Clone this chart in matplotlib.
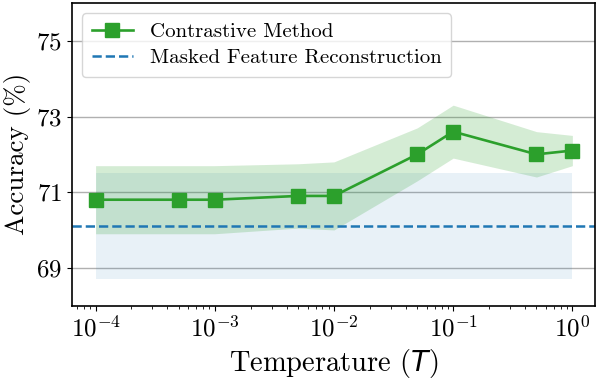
import matplotlib
matplotlib.use("Agg")
import matplotlib.pyplot as plt
import numpy as np

temps = [1e-4, 5e-4, 1e-3, 5e-3, 1e-2, 5e-2, 1e-1, 5e-1, 1.0]
acc = [70.8, 70.8, 70.8, 70.9, 70.9, 72.0, 72.6, 72.0, 72.1]
acc_upper = [71.7, 71.7, 71.7, 71.75, 71.8, 72.7, 73.3, 72.6, 72.5]
acc_lower = [69.9, 69.9, 69.9, 70.05, 70.0, 71.3, 71.9, 71.4, 71.7]
mfr_value = 70.1
mfr_upper = 71.5
mfr_lower = 68.7
yticks = [69, 71, 73, 75]

plt.rcParams['font.family'] = 'serif'
plt.rcParams['font.serif'] = ['cmr10']
plt.rcParams['mathtext.fontset'] = 'custom'
plt.rcParams['mathtext.rm'] = 'cmr10'
plt.rcParams['mathtext.it'] = 'DejaVu Sans:italic'
plt.rcParams['mathtext.fallback'] = 'cm'
plt.rcParams['axes.formatter.use_mathtext'] = True
plt.rcParams['axes.unicode_minus'] = False

fig = plt.figure(figsize=(5.98, 3.82), dpi=100)
ax = fig.add_axes([0.12, 0.20, 0.875, 0.792])

ax.fill_between([temps[0], temps[-1]], [mfr_lower]*2, [mfr_upper]*2,
                color='#1f77b4', alpha=0.1, linewidth=0)
ax.fill_between(temps, acc_lower, acc_upper, color='#2ca02c', alpha=0.2, linewidth=0)
ax.plot(temps, acc, color='#2ca02c', marker='s', markersize=10, linewidth=1.9,
        label='Contrastive Method')
ax.axhline(mfr_value, color='#1f77b4', linestyle='--', linewidth=1.8,
           label='Masked Feature Reconstruction')

ax.set_xscale('log')
ax.set_xlim(10**-4.2, 10**0.19)
ax.set_ylim(68, 76)
ax.set_yticks(yticks)
ax.yaxis.grid(True, color='#b0b0b0', linewidth=1.0)
ax.set_axisbelow(True)
ax.tick_params(axis='both', labelsize=18)
ax.set_xlabel(r'Temperature ($\mathit{T}$)', fontsize=20.5)
ax.set_ylabel('Accuracy (%)', fontsize=19.5)
for s in ax.spines.values():
    s.set_linewidth(1.2)

ax.legend(loc='upper left', fontsize=15, framealpha=0.8, borderpad=0.45,
          handlelength=2.0, labelspacing=0.35)

fig.savefig('out.png', dpi=100)
